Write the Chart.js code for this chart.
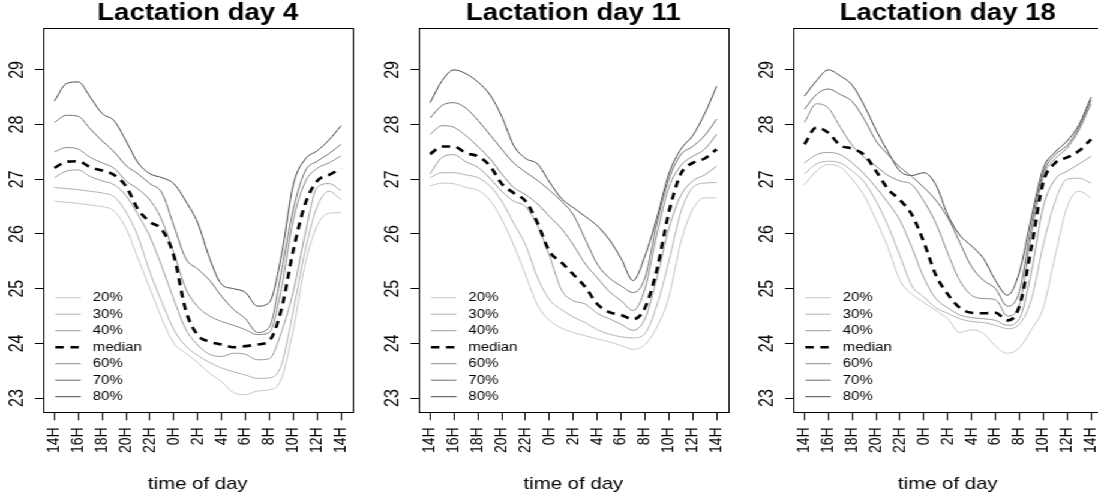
<!DOCTYPE html>
<html>
<head>
<meta charset="utf-8">
<script src="https://cdn.jsdelivr.net/npm/chart.js@4.4.1/dist/chart.umd.min.js"></script>
<style>
html, body { margin: 0; padding: 0; background: #fff; overflow: hidden; width: 1098px; height: 501px; }
#wrap { position: absolute; left: 0; top: 0; width: 940px; height: 501px; transform: scaleX(1.2); transform-origin: 0 0; }
#wrap canvas { position: absolute; top: 0; }
</style>
</head>
<body>
<div id="wrap">
  <canvas id="day4" width="313" height="501" style="left:0px"></canvas>
  <canvas id="day11" width="313" height="501" style="left:312.5px"></canvas>
  <canvas id="day18" width="313" height="501" style="left:625px"></canvas>
</div>
<script>
// hours since 14H of the first day, one point per hour
const hours = [14,15,16,17,18,19,20,21,22,23,24,25,26,27,28,29,30,31,32,33,34,35,36,37,38];
const tickHours = [14,16,18,20,22,24,26,28,30,32,34,36,38];
const hourLabels = ['14H','16H','18H','20H','22H','0H','2H','4H','6H','8H','10H','12H','14H'];
const yTicks = [23,24,25,26,27,28,29];
const seriesNames = ['20%','30%','40%','median','60%','70%','80%'];
const seriesColors = ['#c6c6c6','#b2b2b2','#9c9c9c','#000000','#8a8a8a','#6e6e6e','#464646'];

// Lactation day 4
const d4_20  = [26.6,26.58,26.56,26.53,26.5,26.42,26.1,25.55,25.0,24.45,24.0,23.82,23.65,23.45,23.3,23.1,23.06,23.13,23.15,23.35,24.25,25.45,26.15,26.38,26.39];
const d4_30  = [26.85,26.83,26.81,26.78,26.75,26.68,26.4,25.95,25.3,24.75,24.25,23.95,23.78,23.65,23.55,23.48,23.42,23.36,23.37,23.6,24.6,25.7,26.5,26.78,26.63];
const d4_40  = [27.03,27.15,27.17,27.05,26.97,26.9,26.7,26.35,25.95,25.4,24.8,24.26,23.97,23.8,23.76,23.82,23.8,23.7,23.72,24.2,24.95,26.0,26.85,26.92,26.79];
const d4_med = [27.21,27.32,27.33,27.22,27.16,27.08,26.87,26.45,26.22,26.08,25.6,24.6,24.15,24.03,23.98,23.93,23.95,23.98,24.05,24.62,25.7,26.55,26.97,27.08,27.2];
const d4_60  = [27.5,27.58,27.55,27.4,27.3,27.2,26.97,26.82,26.62,26.25,25.65,25.0,24.67,24.5,24.4,24.33,24.25,24.16,24.2,25.0,26.25,26.95,27.2,27.3,27.43];
const d4_70  = [28.04,28.17,28.15,27.92,27.7,27.5,27.25,27.1,26.92,26.75,26.15,25.55,25.36,25.15,24.86,24.62,24.45,24.2,24.3,25.3,26.45,27.15,27.33,27.47,27.64];
const d4_80  = [28.43,28.75,28.78,28.5,28.2,28.07,27.7,27.3,27.1,27.03,26.92,26.6,26.2,25.55,25.08,25.0,24.93,24.68,24.75,25.6,26.9,27.37,27.52,27.72,27.98];

// Lactation day 11
const d11_20  = [26.88,26.93,26.92,26.85,26.8,26.62,26.27,25.8,25.25,24.7,24.42,24.28,24.2,24.14,24.08,24.03,23.96,23.89,23.98,24.3,24.85,25.85,26.45,26.66,26.66];
const d11_30  = [27.03,27.12,27.12,27.08,27.03,26.88,26.6,26.2,25.8,25.2,24.8,24.62,24.48,24.38,24.25,24.17,24.12,24.1,24.18,24.7,25.5,26.4,26.85,26.93,26.94];
const d11_40  = [27.1,27.4,27.45,27.32,27.22,27.02,26.78,26.6,26.5,26.15,25.6,24.98,24.78,24.72,24.55,24.45,24.35,24.24,24.45,25.2,26.1,26.7,26.97,27.08,27.24];
const d11_med = [27.46,27.6,27.6,27.48,27.42,27.25,26.92,26.75,26.6,26.2,25.68,25.48,25.26,25.03,24.72,24.57,24.52,24.44,24.65,25.35,26.4,27.1,27.3,27.38,27.55];
const d11_60  = [27.82,27.98,27.95,27.8,27.6,27.38,27.1,26.85,26.72,26.55,26.32,26.1,25.8,25.45,25.2,24.95,24.78,24.6,25.0,26.0,26.85,27.25,27.42,27.55,27.82];
const d11_70  = [28.12,28.35,28.4,28.3,28.08,27.82,27.55,27.3,27.13,26.98,26.8,26.6,26.35,25.9,25.45,25.2,25.05,24.93,25.2,26.2,27.0,27.45,27.6,27.8,28.1];
const d11_80  = [28.4,28.8,29.0,28.93,28.78,28.55,28.15,27.62,27.38,27.28,26.95,26.65,26.48,26.32,26.15,25.9,25.55,25.15,25.6,26.3,27.1,27.55,27.8,28.2,28.7];

// Lactation day 18
const d18_20  = [26.9,27.15,27.27,27.22,27.0,26.7,26.25,25.75,25.15,24.9,24.75,24.6,24.45,24.2,24.25,24.18,23.95,23.82,23.92,24.25,24.65,25.6,26.5,26.78,26.66];
const d18_30  = [27.1,27.28,27.33,27.3,27.15,26.95,26.6,26.15,25.6,25.05,24.85,24.65,24.55,24.45,24.4,24.38,24.33,24.27,24.35,24.8,25.8,26.6,27.0,27.02,26.93];
const d18_40  = [27.3,27.45,27.49,27.45,27.3,27.1,26.85,26.57,26.25,25.75,25.2,24.82,24.65,24.52,24.47,24.45,24.42,24.33,24.45,25.3,26.5,27.0,27.15,27.28,27.42];
const d18_med = [27.64,27.95,27.85,27.62,27.56,27.45,27.15,26.82,26.62,26.35,25.85,25.25,24.9,24.65,24.56,24.55,24.56,24.42,24.68,25.75,26.95,27.3,27.4,27.52,27.73];
const d18_60  = [28.04,28.38,28.3,27.95,27.62,27.4,27.24,27.07,26.97,26.9,26.6,26.2,25.65,25.15,24.88,24.82,24.8,24.5,24.7,26.0,27.05,27.38,27.57,27.9,28.38];
const d18_70  = [28.28,28.55,28.65,28.55,28.42,28.1,27.7,27.45,27.22,27.05,26.85,26.62,26.3,25.85,25.4,25.15,25.0,24.68,24.95,26.15,27.12,27.45,27.62,27.95,28.45];
const d18_80  = [28.52,28.8,29.0,28.89,28.72,28.35,27.9,27.5,27.15,27.07,27.12,26.9,26.35,25.98,25.78,25.55,25.15,24.88,25.3,26.3,27.2,27.5,27.7,28.0,28.5];

Chart.defaults.font.family = '"Liberation Sans", Arial, Helvetica, sans-serif';
Chart.defaults.color = '#000';

// box round the plot and the legend in the lower left corner
const framePlugin = {
  id: 'frame',
  afterDatasetsDraw(chart) {
    const a = chart.chartArea;
    const ctx = chart.ctx;
    ctx.save();
    ctx.strokeStyle = '#000';
    ctx.lineWidth = 1;
    ctx.strokeRect(Math.round(a.left) + 0.5, Math.round(a.top) + 0.5,
                   Math.round(a.right - a.left), Math.round(a.bottom - a.top));
    ctx.font = '12.5px "Liberation Sans", Arial, sans-serif';
    ctx.textBaseline = 'middle';
    ctx.textAlign = 'left';
    chart.data.datasets.forEach((ds, i) => {
      const y = 297.7 + i * 16.5;
      ctx.strokeStyle = ds.borderColor;
      ctx.lineWidth = ds.borderWidth;
      ctx.setLineDash(ds.borderDash);
      ctx.beginPath();
      ctx.moveTo(a.left + 10.3, y);
      ctx.lineTo(a.left + 31.5, y);
      ctx.stroke();
      ctx.fillStyle = '#000';
      ctx.fillText(ds.label, a.left + 41.4, y);
    });
    ctx.restore();
  }
};

function buildChart(id, title, series) {
  const datasets = series.map((vals, i) => {
    const isMedian = seriesNames[i] === 'median';
    return {
      label: seriesNames[i],
      data: vals.map((v, j) => ({x: hours[j], y: v})),
      borderColor: seriesColors[i],
      borderWidth: isMedian ? 2.6 : 1,
      borderDash: isMedian ? [7, 5.5] : [],
      pointRadius: 0,
      cubicInterpolationMode: 'monotone',
      fill: false,
      order: isMedian ? -1 : i
    };
  });
  return new Chart(document.getElementById(id), {
    type: 'line',
    data: {datasets: datasets},
    options: {
      responsive: false,
      animation: false,
      events: [],
      layout: {padding: {left: 0, right: 19.25, top: 0, bottom: 0}, autoPadding: false},
      plugins: {
        legend: {display: false},
        tooltip: {enabled: false},
        title: {
          display: true,
          text: title,
          fullSize: false,
          color: '#000',
          font: {size: 23, weight: 'bold', lineHeight: 1.17},
          padding: {top: 0, bottom: 1.4}
        }
      },
      scales: {
        x: {
          type: 'linear',
          min: 13.04,
          max: 38.96,
          afterBuildTicks: ax => { ax.ticks = tickHours.map(v => ({value: v})); },
          afterFit: ax => { ax.height = 88.7; },
          ticks: {
            autoSkip: false,
            minRotation: 90,
            maxRotation: 90,
            padding: 7,
            color: '#000',
            font: {size: 14},
            callback: (v, i) => hourLabels[i]
          },
          grid: {drawOnChartArea: false, drawTicks: true, tickLength: 8, color: '#000', lineWidth: 1},
          border: {display: false},
          title: {display: true, text: 'time of day', color: '#000', font: {size: 17}, padding: {top: 0, bottom: 6}}
        },
        y: {
          type: 'linear',
          min: 22.74,
          max: 29.76,
          afterBuildTicks: ax => { ax.ticks = yTicks.map(v => ({value: v})); },
          afterFit: ax => { ax.width = 35.83; },
          ticks: {
            minRotation: 90,
            maxRotation: 90,
            crossAlign: 'center',
            padding: 5.5,
            color: '#000',
            font: {size: 16},
            callback: v => String(v)
          },
          grid: {drawOnChartArea: false, drawTicks: true, tickLength: 6.67, color: '#000', lineWidth: 1},
          border: {display: false}
        }
      }
    },
    plugins: [framePlugin]
  });
}

buildChart('day4', 'Lactation day 4', [d4_20, d4_30, d4_40, d4_med, d4_60, d4_70, d4_80]);
buildChart('day11', 'Lactation day 11', [d11_20, d11_30, d11_40, d11_med, d11_60, d11_70, d11_80]);
buildChart('day18', 'Lactation day 18', [d18_20, d18_30, d18_40, d18_med, d18_60, d18_70, d18_80]);
</script>
</body>
</html>
